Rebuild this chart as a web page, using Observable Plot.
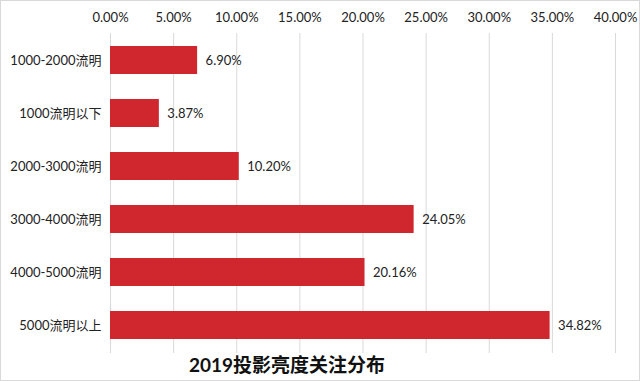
<!DOCTYPE html>
<html>
<head>
<meta charset="utf-8">
<script src="https://cdn.jsdelivr.net/npm/d3@7"></script>
<script src="https://cdn.jsdelivr.net/npm/@observablehq/plot@0.6"></script>
<style>
  html, body { margin: 0; padding: 0; background: #fff; }
  #wrap { width: 640px; height: 381px; box-sizing: border-box; border: 1px solid #d9d9d9; overflow: hidden; position: relative; }
  #title { position: absolute; left: 0; top: 349px; width: 572px; text-align: center; font-family: Lato, "Noto Sans CJK SC", sans-serif; font-weight: bold; font-size: 19px; color: #111; }
</style>
</head>
<body>
<div id="wrap"><div id="chart"></div><div id="title">2019投影亮度关注分布</div></div>
<script>
const categories = ["1000-2000流明", "1000流明以下", "2000-3000流明", "3000-4000流明", "4000-5000流明", "5000流明以上"];
const values = [6.90, 3.87, 10.20, 24.05, 20.16, 34.82];
const xTicks = [0, 5, 10, 15, 20, 25, 30, 35, 40];
const title = "2019投影亮度关注分布";

const data = categories.map((c, i) => ({category: c, value: values[i]}));

const chart = Plot.plot({
  width: 638,
  height: 352,
  marginTop: 32,
  marginBottom: 0,
  marginLeft: 109,
  marginRight: 24,
  style: {fontFamily: 'Lato, "Noto Sans CJK SC", sans-serif', fontSize: "13px", color: "#222", background: "transparent"},
  x: {domain: [0, 40], axis: null},
  y: {domain: categories, paddingInner: 0.465, paddingOuter: 0.235, axis: null},
  marks: [
    Plot.ruleX(xTicks, {stroke: "#d9d9d9", strokeWidth: 1}),
    Plot.axisX({anchor: "top", ticks: xTicks, tickSize: 0, tickPadding: 12, label: null, tickFormat: d => d.toFixed(2) + "%", fontSize: 13, fill: "#222"}),
    Plot.axisY({anchor: "left", tickSize: 0, tickPadding: 9, label: null, fontSize: 13, fill: "#222"}),
    Plot.barX(data, {x: "value", y: "category", fill: "#d0262e"}),
    Plot.text(data, {x: "value", y: "category", text: d => d.value.toFixed(2) + "%", dx: 8, textAnchor: "start", fontSize: 13, fill: "#222"})
  ]
});
document.getElementById("chart").appendChild(chart);
</script>
</body>
</html>
